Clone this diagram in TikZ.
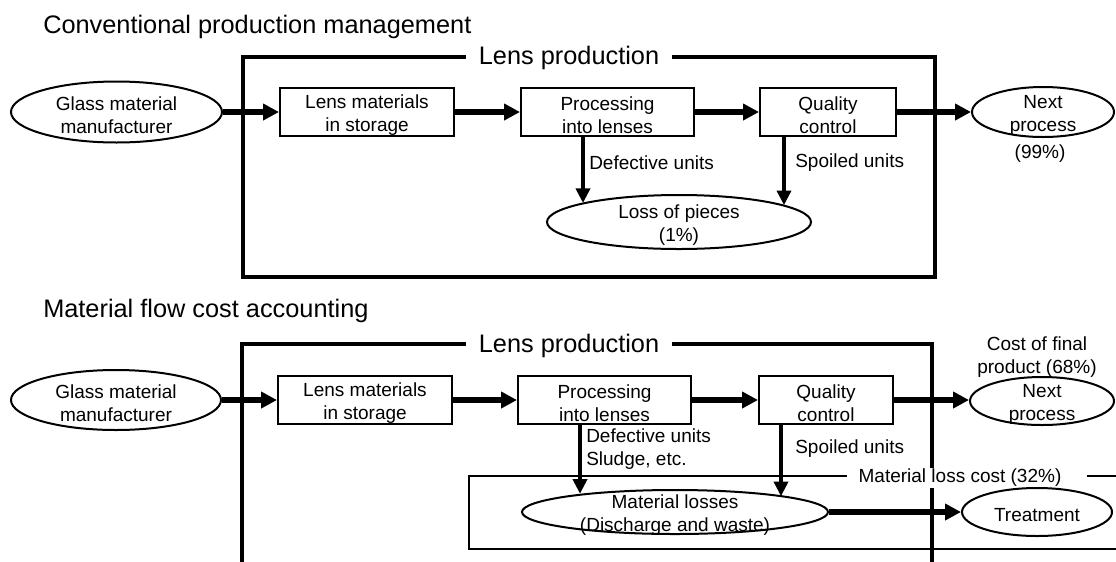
\documentclass[tikz,border=0pt]{standalone}
\usepackage{fontspec}
\setmainfont{Liberation Sans}
\usetikzlibrary{shapes.geometric,arrows.meta}
\begin{document}
\begin{tikzpicture}[x=0.75pt,y=-0.75pt,
  txt/.style={font=\fontsize{14.25pt}{17.25pt}\selectfont,align=center,inner sep=0pt},
  intxt/.style={txt,yshift=-2.2pt},
  hd/.style={font=\fontsize{19pt}{23pt}\selectfont,inner sep=0pt},
  boxnode/.style={draw,line width=1.5pt,minimum height=36pt,inner sep=0pt},
  ellnode/.style={draw,ellipse,line width=1.5pt,inner sep=0pt},
  flow/.style={line width=4.8pt,-{Triangle[length=12pt,width=12pt]}},
  drop/.style={line width=3.6pt,-{Triangle[length=11pt,width=10.5pt]}},
  frame/.style={line width=3.4pt},
  lossframe/.style={line width=1.9pt},
  cover/.style={fill=white}
]
\useasboundingbox (0,0) rectangle (1116,561);
\fill[white] (0,0) rectangle (1116,561);

% ---------- Conventional production management ----------
\node[hd,anchor=base west] (t1) at (43,33) {Conventional production management};
\draw[frame] (243,57) rectangle (935,277);
\node[hd,cover,inner xsep=10pt,inner ysep=1pt,anchor=base] (lp1) at (569,64) {Lens production};

\node[ellnode,minimum width=158.25pt,minimum height=45.75pt,
      label={[intxt]center:{Glass material\\manufacturer}}] (g1) at (116.5,112) {};
\node[boxnode,minimum width=130.5pt,
      label={[intxt]center:{Lens materials\\in storage}}] (m1) at (367,112) {};
\node[boxnode,minimum width=129.75pt,
      label={[intxt]center:{Processing\\into lenses}}] (p1) at (607.5,112) {};
\node[boxnode,minimum width=102pt,
      label={[intxt]center:{Quality\\control}}] (q1) at (828,112) {};
\node[ellnode,minimum width=106.5pt,minimum height=37.5pt,
      label={[intxt]center:{Next\\process}}] (n1) at (1043,112) {};
\node[txt] (pc1) at (1040,154) {(99\%)};
\node[ellnode,minimum width=198pt,minimum height=40.5pt,
      label={[intxt]center:{Loss of pieces\\(1\%)}}] (l1) at (679,222) {};

\draw[flow] (g1) -- (m1);
\draw[flow] (m1) -- (p1);
\draw[flow] (p1) -- (q1);
\draw[flow] (q1) -- (n1);

\coordinate (d1) at (583,0);
\coordinate (s1) at (784,0);
\draw[drop] (d1 |- p1.south) -- (d1 |- l1.169);
\draw[drop] (s1 |- q1.south) -- (s1 |- l1.9);
\node[txt,anchor=west] (dl1) at (589,163) {Defective units};
\node[txt,anchor=west] (sl1) at (795,163) {Spoiled units};

% ---------- Material flow cost accounting ----------
\node[hd,anchor=base west] (t2) at (43,317) {Material flow cost accounting};
\draw[frame] (242,563) -- (242,344) -- (932,344) -- (932,563);
\node[hd,cover,inner xsep=10pt,inner ysep=1pt,anchor=base] (lp2) at (569,352) {Lens production};

\node[ellnode,minimum width=157.5pt,minimum height=45pt,
      label={[intxt]center:{Glass material\\manufacturer}}] (g2) at (116,400) {};
\node[boxnode,minimum width=130.5pt,
      label={[intxt]center:{Lens materials\\in storage}}] (m2) at (365,400) {};
\node[boxnode,minimum width=129.75pt,
      label={[intxt]center:{Processing\\into lenses}}] (p2) at (604.5,400) {};
\node[boxnode,minimum width=100.5pt,
      label={[intxt]center:{Quality\\control}}] (q2) at (826,400) {};
\node[ellnode,minimum width=108pt,minimum height=36pt,
      label={[intxt]center:{Next\\process}}] (n2) at (1042,401) {};
\node[txt] (cf2) at (1037,357) {Cost of final\\product (68\%)};

% material loss area
\draw[lossframe] (847,476) -- (469,476) -- (469,549) -- (1118,549);
\draw[lossframe] (1087,476) -- (1118,476);
\node[txt,cover,inner xsep=1pt,inner ysep=1.2pt] (mlc) at (960,478) {Material loss cost (32\%)};

\node[ellnode,minimum width=229.5pt,minimum height=33pt,
      label={[intxt]center:{Material losses\\(Discharge and waste)}}] (ml2) at (675,512) {};
\node[ellnode,minimum width=112.5pt,minimum height=36pt,
      label={[intxt]center:Treatment}] (tr2) at (1037,512) {};

\draw[flow] (g2) -- (m2);
\draw[flow] (m2) -- (p2);
\draw[flow] (p2) -- (q2);
\draw[flow] (q2.east) -- (q2.east -| n2.west);
\draw[flow] (ml2) -- (tr2);

\coordinate (d2) at (580,0);
\coordinate (s2) at (781,0);
\draw[drop] (d2 |- p2.south) -- (d2 |- ml2.169.7);
\draw[drop] (s2 |- q2.south) -- (s2 |- ml2.8.5);
\node[txt,align=left,anchor=west] (dl2) at (586,449.5) {Defective units\\Sludge, etc.};
\node[txt,anchor=west] (sl2) at (795,449) {Spoiled units};
\end{tikzpicture}
\end{document}
